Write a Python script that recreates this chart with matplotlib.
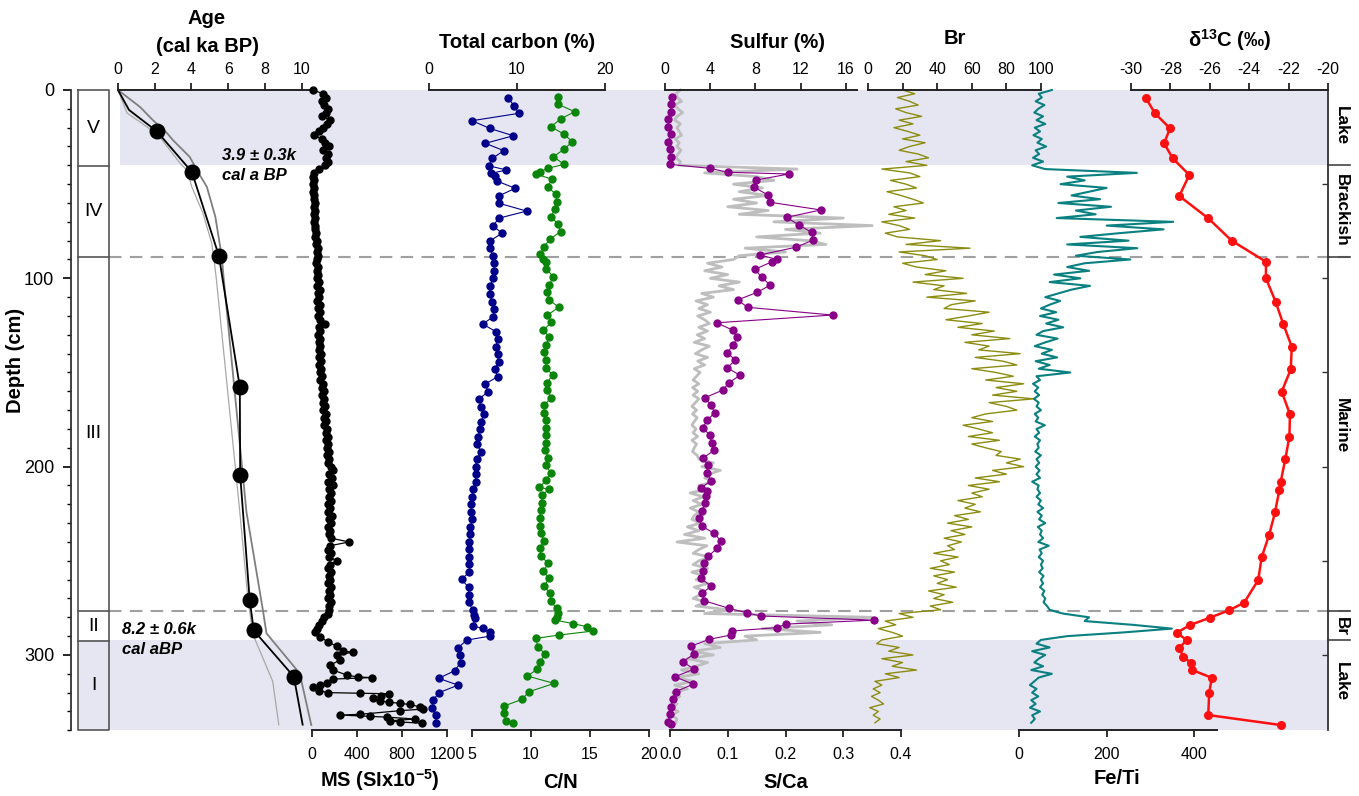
import numpy as np
import matplotlib
matplotlib.use("Agg")
import matplotlib.pyplot as plt

plt.rcParams['font.family'] = ['Liberation Sans', 'DejaVu Sans']
plt.rcParams['axes.unicode_minus'] = False
plt.rcParams['mathtext.fontset'] = 'custom'
plt.rcParams['mathtext.rm'] = 'Liberation Sans'
plt.rcParams['mathtext.bf'] = 'Liberation Sans:bold'

# ---------------- data ----------------
# age-depth model (age ka, depth cm)
age_median = [(0, 0), (0.6, 10.6), (2.12, 22), (4.02, 43.5), (5.49, 88), (6.63, 157.7),
              (6.65, 204.5), (7.17, 271), (7.39, 287), (9.57, 311.5), (10.05, 337)]
age_old = [(0, 0), (1.2, 9), (1.9, 16), (2.66, 22.8), (2.99, 26.6), (3.91, 35.6), (4.29, 42.5),
           (4.84, 51.5), (5.3, 67.4), (5.65, 88.6), (5.76, 101), (6.99, 224), (7.9, 277),
           (8.08, 288.5), (9.89, 309.8), (10.52, 337.2)]
age_young = [(0, 0), (0.49, 12.2), (1.58, 19.6), (2.28, 25), (3.37, 38.8), (3.75, 42.5),
             (4.02, 51.5), (4.62, 65.3), (5.1, 81.3), (5.25, 92), (5.36, 101), (6.63, 224),
             (7.07, 270), (7.34, 289), (8.42, 314), (8.75, 337)]
age_dates = [(2.12, 22), (4.02, 43.5), (5.49, 88), (6.63, 157.7), (6.65, 204.5),
             (7.17, 271), (7.39, 287), (9.57, 311.5)]

# magnetic susceptibility, 2-cm grid from 0 to 286 cm
ms_grid = [5, 100, 120, 85, 110, 145, 120, 90, 160, 130,
           95, 60, 20, 90, 115, 150, 100, 140, 120, 145,
           118, 60, 15, 8, 18, 12, 20, 10, 22, 14,
           24, 16, 25, 18, 28, 20, 30, 25, 35, 30,
           45, 35, 50, 40, 55, 45, 35, 50, 40, 55,
           45, 60, 45, 70, 50, 65, 45, 72, 55, 68,
           50, 75, 116, 60, 70, 55, 75, 60, 72, 58,
           78, 62, 80, 65, 82, 70, 88, 75, 95, 85,
           105, 90, 110, 95, 115, 100, 120, 105, 125, 110,
           130, 120, 140, 125, 145, 130, 150, 135, 155, 140,
           170, 190, 150, 175, 145, 185, 155, 170, 150, 165,
           140, 160, 145, 175, 150, 165, 145, 160, 150, 170,
           330, 160, 145, 165, 150, 222, 160, 145, 165, 150,
           160, 145, 165, 150, 160, 145, 165, 155, 150, 140,
           110, 85, 60, 40]
# magnetic susceptibility, base of core (depth, value)
ms_base = [(288, 27), (290.5, 71), (293, 142), (295.5, 222), (298, 275), (298.5, 365),
           (300, 222), (302.7, 250), (305.4, 160), (308, 187), (310.7, 311), (311.7, 409),
           (312, 530), (312.8, 187), (314.9, 133), (316, 70), (317, 10), (319, 60),
           (320, 146), (320.3, 430), (320.6, 680), (322, 610), (323, 545), (324.5, 605),
           (325, 680), (325.7, 780), (326.3, 870), (327.6, 960), (328.7, 990), (329.6, 780),
           (331.5, 430), (331.9, 250), (332.6, 515), (333, 665), (334, 915), (335, 690),
           (335.6, 780), (336.2, 975)]

# total carbon (%)
tc = [(4.4, 9.0), (8.5, 9.7), (12.4, 10.2), (16.3, 4.9), (20.4, 6.9), (24.3, 9.6), (28.3, 6.4),
      (32.2, 8.5), (36.3, 7.2), (40.2, 6.8), (42.5, 8.8), (44.2, 7.1), (45.5, 7.5), (48.3, 7.7),
      (52.2, 9.8), (56.3, 7.9), (60.2, 8.0), (64.3, 11.1), (68.1, 7.9), (72.2, 7.3), (76.1, 8.3),
      (80.2, 6.9), (84.1, 6.9), (88.2, 7.3), (92.0, 7.4), (96.1, 7.4), (100.0, 7.3), (104.2, 6.9),
      (108.2, 6.9), (112.4, 7.2), (116.3, 7.4), (120.4, 7.3), (124.3, 6.1), (128.3, 7.6),
      (132.2, 7.8), (136.3, 7.6), (140.2, 7.8), (144.3, 7.9), (148.3, 7.5), (152.2, 7.8),
      (156.1, 6.4), (160.2, 6.7), (164.1, 5.7), (168.2, 5.9), (172.1, 6.3), (176.1, 5.9),
      (180.2, 5.8), (184.1, 5.6), (188.2, 5.5), (192.1, 5.9), (196.1, 5.4), (200.0, 5.3),
      (204.1, 5.3), (208.2, 5.3), (212.0, 5.0), (216.0, 4.9), (220.0, 4.8), (224.0, 4.8),
      (228.0, 4.9), (231.9, 4.7), (235.8, 4.7), (239.9, 4.6), (243.9, 4.6), (247.8, 4.6),
      (251.9, 4.6), (255.8, 4.6), (259.9, 3.7), (264.1, 4.5), (268.2, 4.5), (272.1, 4.5),
      (276.2, 5.0), (278.8, 5.1), (280.6, 5.2), (284.6, 5.0), (285.9, 6.1), (288.0, 6.9),
      (290.0, 6.9), (292.1, 4.3), (296.2, 3.3), (300.0, 3.5), (304.1, 3.6), (308.4, 2.9),
      (312.4, 1.1), (316.0, 3.3), (320.1, 1.1), (323.9, 0.5), (328.0, 0.3), (331.9, 0.8),
      (336.0, 0.8)]

# C/N ratio
cn = [(3.5, 12.3), (7.6, 12.3), (11.5, 13.7), (15.4, 12.5), (19.5, 11.7), (23.5, 12.8),
      (27.4, 13.5), (31.5, 12.8), (35.4, 11.9), (39.5, 12.8), (41.6, 11.4), (43.4, 10.8),
      (44.6, 10.4), (47.4, 11.8), (51.3, 11.4), (55.4, 12.1), (59.3, 12.2), (63.4, 12.0),
      (67.3, 11.7), (71.3, 12.3), (75.2, 12.5), (79.3, 11.6), (83.2, 11.1), (87.3, 10.8),
      (89.9, 11.0), (91.2, 11.3), (95.2, 11.3), (99.1, 11.9), (103.4, 11.55), (107.3, 11.34),
      (111.5, 11.56), (115.4, 12.36), (119.5, 11.39), (123.4, 11.73), (127.5, 11.05),
      (131.3, 11.56), (135.4, 11.28), (139.3, 11.11), (143.4, 11.28), (147.5, 11.26),
      (151.3, 11.85), (155.4, 11.34), (159.3, 11.39), (163.4, 11.68), (167.4, 11.14),
      (171.4, 11.11), (175.3, 11.26), (179.4, 11.26), (183.2, 11.26), (187.3, 11.26),
      (191.2, 11.2), (195.3, 11.48), (199.3, 11.26), (203.2, 11.68), (207.1, 11.28),
      (211.0, 10.71), (212.0, 11.54), (215.1, 10.92), (219.3, 10.92), (223.2, 10.83),
      (227.2, 10.75), (231.5, 10.77), (235.4, 10.83), (239.3, 11.11), (243.4, 10.77),
      (247.5, 10.83), (251.4, 11.48), (255.3, 11.05), (259.3, 11.54), (263.4, 11.11),
      (267.3, 11.62), (271.4, 11.68), (275.3, 12.19), (277.6, 12.33), (279.7, 12.19),
      (281.5, 12.05), (283.3, 13.52), (285.0, 14.74), (287.3, 15.25), (289.4, 12.39),
      (291.2, 10.41), (295.6, 10.58), (299.5, 11.2), (303.6, 10.77), (307.7, 10.49),
      (311.2, 9.7), (315.1, 11.96), (319.5, 9.84), (323.6, 9.22), (327.1, 7.72),
      (331.0, 7.72), (335.1, 7.89), (336.3, 8.45)]

# sulfur (%)
sulfur = [(3.5, 0.59), (7.6, 0.53), (11.5, 0.53), (15.4, 0.30), (19.5, 0.30), (23.5, 0.53),
          (27.4, 0.30), (31.5, 0.44), (35.4, 0.50), (39.5, 0.44), (41.6, 3.98), (43.7, 5.6),
          (44.6, 10.97), (47.8, 8.1), (51.7, 7.9), (55.8, 9.14), (59.6, 9.29), (63.7, 13.8),
          (67.6, 10.77), (71.7, 11.86), (75.6, 12.98), (79.7, 13.12), (83.5, 11.59),
          (87.6, 8.41), (89.9, 9.88), (91.3, 9.44), (95.2, 7.96), (99.5, 8.56), (103.6, 9.32),
          (107.4, 8.17), (111.5, 6.43), (115.4, 7.32), (119.5, 14.84), (123.6, 4.58),
          (127.5, 5.99), (131.3, 6.4), (135.4, 6.04), (139.5, 5.51), (143.4, 6.22),
          (147.5, 5.51), (151.5, 6.64), (155.4, 5.66), (159.3, 5.13), (163.4, 3.54),
          (167.4, 4.07), (171.3, 4.4), (175.4, 3.74), (179.3, 3.34), (183.4, 3.98),
          (187.5, 4.13), (191.3, 4.34), (195.4, 3.39), (199.3, 3.78), (203.2, 3.69),
          (207.4, 4.07), (211.4, 3.19), (212.8, 3.69), (215.4, 3.6), (219.5, 3.57),
          (223.4, 3.25), (227.3, 3.05), (231.5, 3.25), (235.4, 4.34), (239.3, 4.93),
          (243.4, 4.63), (247.5, 3.83), (251.4, 3.45), (255.4, 3.39), (259.3, 3.16),
          (263.4, 4.07), (267.3, 3.3), (271.2, 3.48), (275.3, 5.69), (277.6, 7.23),
          (279.3, 8.47), (281.5, 18.5), (283.6, 10.71), (285.5, 9.88), (287.3, 5.9),
          (289.4, 5.84), (291.7, 3.92), (295.3, 2.3), (299.5, 2.57), (303.6, 1.57),
          (307.5, 2.57), (311.6, 0.88), (315.5, 2.5), (319.5, 0.95), (323.4, 0.73),
          (327.5, 0.5), (331.5, 0.44), (335.4, 0.3), (336.5, 0.5)]

# XRF ratios on a 2-cm grid from 0 to 336 cm
sca = [0.018, 0.010, 0.013, 0.020, 0.008, 0.014, 0.022, 0.012, 0.008, 0.018,
       0.012, 0.016, 0.020, 0.009, 0.016, 0.012, 0.019, 0.014, 0.010, 0.018,
       0.016, 0.220, 0.060, 0.150, 0.180, 0.110, 0.160, 0.120, 0.170, 0.110,
       0.150, 0.100, 0.170, 0.120, 0.300, 0.180, 0.350, 0.200, 0.260, 0.150,
       0.240, 0.270, 0.130, 0.200, 0.120, 0.110, 0.065, 0.090, 0.060, 0.100,
       0.070, 0.120, 0.085, 0.110, 0.055, 0.075, 0.045, 0.065, 0.050, 0.070,
       0.048, 0.060, 0.068, 0.050, 0.065, 0.047, 0.060, 0.042, 0.068, 0.055,
       0.044, 0.065, 0.048, 0.060, 0.042, 0.052, 0.046, 0.040, 0.050, 0.039,
       0.048, 0.040, 0.050, 0.044, 0.038, 0.046, 0.039, 0.047, 0.042, 0.038,
       0.045, 0.040, 0.048, 0.038, 0.046, 0.042, 0.039, 0.047, 0.050, 0.075,
       0.055, 0.087, 0.068, 0.060, 0.078, 0.050, 0.064, 0.035, 0.058, 0.040,
       0.055, 0.035, 0.050, 0.042, 0.038, 0.052, 0.030, 0.050, 0.025, 0.060,
       0.012, 0.064, 0.050, 0.040, 0.069, 0.050, 0.040, 0.065, 0.038, 0.058,
       0.045, 0.066, 0.042, 0.060, 0.052, 0.040, 0.065, 0.045, 0.100, 0.060,
       0.350, 0.220, 0.280, 0.160, 0.260, 0.130, 0.150, 0.060, 0.087, 0.040,
       0.075, 0.030, 0.065, 0.045, 0.020, 0.050, 0.010, 0.040, 0.008, 0.030,
       0.005, 0.017, 0.004, 0.012, 0.003, 0.014, 0.004, 0.012, 0.010]
br = [20, 27, 17, 24, 29, 16, 22, 31, 18, 26,
      15, 23, 30, 20, 33, 24, 18, 29, 35, 22,
      34, 8, 24, 30, 13, 22, 28, 11, 19, 26,
      32, 15, 22, 12, 27, 8, 18, 24, 10, 17,
      42, 22, 59, 18, 33, 40, 20, 28, 45, 33,
      55, 26, 44, 38, 57, 34, 62, 48, 44, 70,
      58, 45, 66, 52, 73, 60, 82, 56, 70, 64,
      88, 62, 78, 86, 60, 74, 84, 68, 90, 74,
      86, 72, 96, 70, 80, 86, 68, 60, 72, 55,
      64, 72, 58, 76, 60, 68, 77, 74, 88, 80,
      90, 72, 80, 62, 76, 58, 70, 60, 66, 52,
      62, 56, 65, 50, 58, 46, 60, 48, 56, 44,
      54, 46, 50, 38, 52, 42, 47, 36, 50, 38,
      46, 40, 51, 35, 44, 38, 49, 36, 42, 18,
      26, 10, 16, 6, 14, 20, 8, 5, 18, 12,
      26, 8, 20, 14, 28, 10, 18, 4, 8, 3,
      7, 2, 6, 9, 1, 6, 3, 7, 4]
feti = [75, 45, 52, 38, 58, 44, 35, 55, 40, 60,
        36, 48, 33, 52, 42, 62, 38, 46, 32, 55,
        30, 60, 269, 110, 150, 95, 200, 160, 120, 185,
        90, 210, 130, 175, 86, 352, 200, 330, 230, 140,
        250, 110, 270, 180, 130, 254, 150, 110, 160, 80,
        140, 70, 162, 120, 90, 60, 94, 70, 50, 85,
        48, 90, 62, 101, 55, 40, 88, 60, 36, 75,
        52, 87, 38, 70, 45, 117, 40, 48, 32, 44,
        36, 46, 34, 45, 40, 50, 36, 44, 38, 59,
        40, 46, 36, 48, 42, 45, 37, 50, 40, 46,
        38, 47, 40, 48, 30, 45, 42, 48, 40, 50,
        44, 55, 42, 52, 46, 60, 43, 52, 48, 55,
        44, 68, 47, 52, 45, 55, 50, 54, 46, 56,
        50, 55, 48, 58, 53, 60, 56, 64, 70, 100,
        160, 150, 260, 349, 240, 110, 50, 40, 70, 30,
        60, 45, 35, 55, 28, 75, 45, 35, 25, 40,
        30, 44, 28, 38, 25, 48, 30, 36, 28]

# delta 13C (permil)
d13c = [(4.4, -29.24), (12.4, -28.78), (20.4, -28.02), (28.3, -28.32), (36.3, -27.88),
        (45.1, -27.04), (56.3, -27.55), (68.1, -26.08), (80.0, -24.89), (91.2, -23.15),
        (100.0, -23.15), (112.4, -22.66), (124.3, -22.27), (136.3, -21.84), (148.3, -21.89),
        (160.2, -22.35), (172.2, -21.93), (184.1, -21.96), (196.1, -22.17), (208.0, -22.40),
        (212.4, -22.47), (224.3, -22.69), (236.3, -22.99), (248.2, -23.37), (260.2, -23.54),
        (272.3, -24.26), (276.2, -25.01), (280.2, -25.99), (284.1, -27.0), (288.2, -27.68),
        (292.1, -27.17), (296.2, -27.55), (300.9, -27.35), (304.1, -26.97), (308.0, -26.89),
        (312.1, -25.9), (320.1, -26.03), (331.9, -26.08), (337.2, -22.4)]

units = ['V', 'IV', 'III', 'II', 'I']
unit_bounds = [0, 40.5, 88.7, 276.5, 292.8, 340]
env_labels = ['Lake', 'Brackish', 'Marine', 'Br', 'Lake']
env_bounds = [0, 40, 88.7, 276.5, 291.8, 340]

# ---------------- layout ----------------
W, H = 1359, 796
fig = plt.figure(figsize=(W / 100, H / 100), dpi=100)
Y0, Y1 = 90.0, 730.3
DMAX = 340


def fpos(x0, x1):
    return [x0 / W, 1 - Y1 / H, (x1 - x0) / W, (Y1 - Y0) / H]


def ftext(x, y, s, **kw):
    fig.text(x / W, 1 - y / H, s, **kw)


def split(pairs):
    a = np.array(pairs, dtype=float)
    return a[:, 0], a[:, 1]


# base axes: x in pixel columns, y in depth
ax0 = fig.add_axes(fpos(71, 1328))
ax0.set_xlim(71, 1328)
ax0.set_ylim(DMAX, 0)
ax0.patch.set_visible(False)
for s in ['top', 'bottom']:
    ax0.spines[s].set_visible(False)
ax0.spines['left'].set_linewidth(1.3)
ax0.spines['right'].set_linewidth(1.3)
ax0.spines['left'].set_color('#333333')
ax0.spines['right'].set_color('#333333')
ax0.set_xticks([])
ax0.set_yticks([0, 100, 200, 300])
ax0.set_yticks(np.arange(0, 341, 10), minor=True)
ax0.tick_params(axis='y', which='major', direction='out', length=6, width=1.2,
                labelsize=13, pad=6, right=False, left=True)
ax0.tick_params(axis='y', which='minor', direction='out', length=3, width=1.0,
                right=False, left=True)

shade = '#E6E6F2'
ax0.fill_between([120, 1328], 0, env_bounds[1], color=shade, lw=0, zorder=0)
ax0.fill_between([78, 1328], env_bounds[4], DMAX, color=shade, lw=0, zorder=0)

# right-hand ticks every 50 cm (inward)
axr = fig.add_axes(fpos(71, 1328))
axr.set_ylim(DMAX, 0)
axr.patch.set_visible(False)
for s in ['top', 'bottom', 'left', 'right']:
    axr.spines[s].set_visible(False)
axr.set_xticks([])
axr.yaxis.tick_right()
axr.set_yticks(np.arange(50, 341, 50))
axr.tick_params(axis='y', direction='in', length=4, width=1.0, labelright=False,
                colors='#333333')

# lithology column
lc = '#555555'
ax0.plot([78, 109, 109, 78, 78], [0, 0, DMAX, DMAX, 0], color=lc, lw=1.2, clip_on=False)
for b in unit_bounds[1:-1]:
    ax0.plot([78, 109], [b, b], color=lc, lw=1.2)
for i, u in enumerate(units):
    ax0.text(93.5, (unit_bounds[i] + unit_bounds[i + 1]) / 2, u, ha='center', va='center',
             fontsize=14)

# dashed zone lines and environment labels
for b in [env_bounds[2], env_bounds[3]]:
    ax0.plot([109, 1350], [b, b], color='#A0A0A0', lw=1.5, ls=(0, (6, 4)), clip_on=False,
             zorder=1)
for b in env_bounds[1:-1]:
    ax0.plot([1328, 1350], [b, b], color='#444444', lw=1.2, clip_on=False)
env_centres = [19, 64, 178, 285, 314]
for lab, c in zip(env_labels, env_centres):
    ax0.text(1341, c, lab, rotation=270, ha='center', va='center', fontsize=12.3,
             fontweight='bold', clip_on=False)


def make_ax(x0, x1, xlim, side, ticks, labels=None, pad=4):
    ax = fig.add_axes(fpos(x0, x1))
    ax.set_xlim(*xlim)
    ax.set_ylim(DMAX, 0)
    ax.patch.set_visible(False)
    for s in ['left', 'right', 'top', 'bottom']:
        ax.spines[s].set_visible(s == side)
    ax.spines[side].set_linewidth(1.4)
    ax.spines[side].set_color('#222222')
    ax.set_yticks([])
    if side == 'top':
        ax.xaxis.tick_top()
    else:
        ax.xaxis.tick_bottom()
    ax.set_xticks(ticks)
    if labels is not None:
        ax.set_xticklabels(labels)
    ax.tick_params(axis='x', direction='out', length=5, width=1.3, labelsize=11.5, pad=pad,
                   colors='#222222', labelcolor='black')
    return ax


# Age
axA = make_ax(118, 310, (0, 10.45), 'top', [0, 2, 4, 6, 8, 10])
x, y = split(age_young)
axA.plot(x, y, color='#A8A8A8', lw=0.9, clip_on=False)
x, y = split(age_old)
axA.plot(x, y, color='#7F7F7F', lw=1.3, clip_on=False)
x, y = split(age_median)
axA.plot(x, y, color='black', lw=1.3, clip_on=False)
x, y = split(age_dates)
axA.plot(x, y, 'o', color='black', ms=10.5, clip_on=False, zorder=5)

# MS
axM = make_ax(312, 447, (0, 1200), 'bottom', [0, 400, 800, 1200], pad=7)
ms_d = list(np.arange(len(ms_grid)) * 2.0) + [p[0] for p in ms_base]
ms_v = list(ms_grid) + [p[1] for p in ms_base]
axM.plot(ms_v, ms_d, '-o', color='black', lw=0.9, ms=5, clip_on=False)

# Total carbon
axT = make_ax(429, 605, (0, 20), 'top', [0, 10, 20])
y, x = split(tc)
axT.plot(x, y, '-o', color='#000088', lw=0.8, ms=5, clip_on=False)

# C/N
axC = make_ax(472, 649, (5, 20), 'bottom', [5, 10, 15, 20], pad=7)
y, x = split(cn)
axC.plot(x, y, '-o', color='#0A850A', lw=0.8, ms=5, clip_on=False)

# S/Ca (grey line)
axS2 = make_ax(670, 901, (0, 0.4), 'bottom', [0.0, 0.1, 0.2, 0.3, 0.4],
               ['0.0', '0.1', '0.2', '0.3', '0.4'], pad=7)
xrf_d = np.arange(len(sca)) * 2.0
axS2.plot(sca, xrf_d, color='#BEBEBE', lw=2.0, clip_on=False)

# Sulfur
axS = make_ax(665, 857, (0, 17), 'top', [0, 4, 8, 12, 16])
y, x = split(sulfur)
axS.plot(x, y, '-o', color='#880088', lw=0.8, ms=5, clip_on=False)

# Br
axB = make_ax(868, 1041, (0, 100), 'top', [0, 20, 40, 60, 80, 100])
axB.plot(br, np.arange(len(br)) * 2.0, color='#8C8C10', lw=1.0, clip_on=False)

# Fe/Ti
axF = make_ax(1019, 1217, (0, 452), 'bottom', [0, 200, 400], pad=7)
axF.plot(feti, np.arange(len(feti)) * 2.0, color='#0A8080', lw=1.5, clip_on=False)

# d13C
axD = make_ax(1131, 1328, (-30, -20), 'top', [-30, -28, -26, -24, -22, -20])
y, x = split(d13c)
axD.plot(x, y, '-o', color='#FF1010', lw=1.8, ms=5.5, clip_on=False)

# ---------------- titles / annotations ----------------
tb = dict(ha='center', va='center', fontsize=14.5, fontweight='bold')
ftext(207, 18, 'Age', **tb)
ftext(207, 47, '(cal ka BP)', **tb)
ftext(517, 42, 'Total carbon (%)', **tb)
ftext(778, 43, 'Sulfur (%)', **tb)
ftext(955, 38, 'Br', **tb)
ftext(1230, 40, 'δ$^{\\mathbf{13}}$C (‰)', **tb)
ftext(380, 780, 'MS (SIx10$^{\\mathbf{-5}}$)', **tb)
ftext(560, 782, 'C/N', **tb)
ftext(786, 782, 'S/Ca', **tb)
ftext(1117, 778, 'Fe/Ti', **tb)
ftext(16, 360, 'Depth (cm)', rotation=90, **tb)

ta = dict(ha='left', va='center', fontsize=12, fontweight='bold', fontstyle='italic')
ftext(222, 156, '3.9 ± 0.3k', **ta)
ftext(222, 175, 'cal a BP', **ta)
ftext(122, 630, '8.2 ± 0.6k', **ta)
ftext(122, 649, 'cal aBP', **ta)

fig.savefig('out.png', dpi=100)
